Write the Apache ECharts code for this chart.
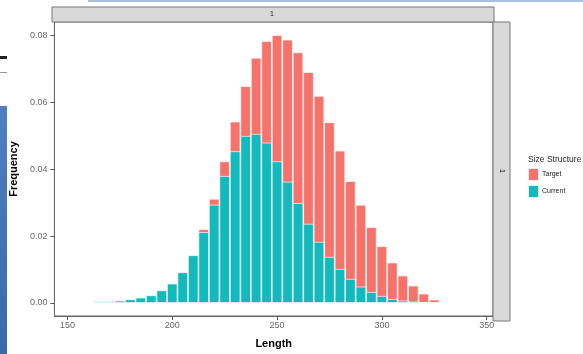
<!DOCTYPE html>
<html>
<head>
<meta charset="utf-8">
<script src="https://cdn.jsdelivr.net/npm/echarts@6/dist/echarts.min.js"></script>
<style>
  html, body { margin: 0; padding: 0; background: #ffffff; }
  #chart { width: 583px; height: 354px; }
</style>
</head>
<body>
<div id="chart"></div>
<script>
// Bin centres (Length), bin width 5
const lengths = [165, 170, 175, 180, 185, 190, 195, 200, 205, 210, 215, 220, 225, 230, 235, 240,
                 245, 250, 255, 260, 265, 270, 275, 280, 285, 290, 295, 300, 305, 310, 315, 320, 325];
// Target size structure (drawn behind)
const target = [0.0001, 0.0002, 0.0004, 0.0008, 0.0014, 0.0021, 0.0035, 0.0055, 0.0088, 0.0138, 0.0221,
                0.0312, 0.0424, 0.0543, 0.0649, 0.0734, 0.0784, 0.0802, 0.0788, 0.0750, 0.0691, 0.0620,
                0.0541, 0.0456, 0.0365, 0.0294, 0.0227, 0.0170, 0.0121, 0.0082, 0.0052, 0.0028, 0.0010];
// Current size structure (drawn on top)
const current = [0.0005, 0.0005, 0.0007, 0.0011, 0.0016, 0.0023, 0.0038, 0.0058, 0.0092, 0.0143, 0.0212,
                 0.0294, 0.0380, 0.0454, 0.0500, 0.0506, 0.0480, 0.0424, 0.0363, 0.0299, 0.0237, 0.0183,
                 0.0138, 0.0102, 0.0072, 0.0049, 0.0033, 0.0021, 0.0012, 0.0007, 0.0004, 0.0002, 0.0001];
const xTicks = [150, 200, 250, 300, 350];
const yTicks = [0.00, 0.02, 0.04, 0.06, 0.08];
const seriesNames = ['Target', 'Current'];
const colors = ['#F6736B', '#12BABD'];
const facetLabel = '1';

const chart = echarts.init(document.getElementById('chart'), null, { renderer: 'canvas' });
const FONT = 'Liberation Sans, Arial, sans-serif';
const gridL = 52, gridR = 493, gridT = 22, gridB = 320;

const option = {
  backgroundColor: '#ffffff',
  animation: false,
  color: colors,
  textStyle: { fontFamily: FONT },
  title: {
    text: 'Size Structure',
    left: 523, top: 150,
    textStyle: { fontSize: 8.5, fontWeight: 'normal', color: '#222', fontFamily: FONT }
  },
  legend: {
    data: seriesNames,
    orient: 'vertical',
    left: 522, top: 162,
    icon: 'rect',
    itemWidth: 11, itemHeight: 13,
    itemGap: 2,
    textStyle: { fontSize: 7, color: '#222', fontFamily: FONT, padding: [0, 0, 0, -2] },
    selectedMode: false
  },
  grid: {
    left: gridL, right: 583 - gridR, top: gridT, bottom: 354 - gridB,
    show: true, borderColor: '#666', borderWidth: 1, backgroundColor: '#fff'
  },
  xAxis: {
    type: 'value',
    min: 143.8, max: 353,
    name: 'Length',
    nameLocation: 'middle',
    nameGap: 22,
    nameTextStyle: { fontSize: 11, fontWeight: 'bold', color: '#000', fontFamily: FONT },
    axisLine: { show: true, onZero: false, lineStyle: { color: '#666', width: 1 } },
    axisTick: { show: true, customValues: xTicks, length: 4, lineStyle: { color: '#555', width: 1 } },
    axisLabel: { customValues: xTicks, fontSize: 9, color: '#666', margin: 5, fontFamily: FONT },
    splitLine: { show: false }
  },
  yAxis: {
    type: 'value',
    min: -0.0039, max: 0.0841,
    name: 'Frequency',
    nameLocation: 'middle',
    nameGap: 33,
    nameTextStyle: { fontSize: 11, fontWeight: 'bold', color: '#000', fontFamily: FONT },
    axisLine: { show: true, onZero: false, lineStyle: { color: '#666', width: 1 } },
    axisTick: { show: true, customValues: yTicks, length: 4, lineStyle: { color: '#555', width: 1 } },
    axisLabel: {
      customValues: yTicks, fontSize: 9, color: '#666', margin: 7, fontFamily: FONT,
      formatter: v => v.toFixed(2)
    },
    splitLine: { show: false }
  },
  series: [
    {
      name: seriesNames[0], type: 'bar',
      data: lengths.map((x, i) => [x, target[i]]),
      barWidth: 10.54, barGap: '-100%',
      itemStyle: { color: colors[0], borderColor: 'rgba(255,255,255,0.85)', borderWidth: 0.8 },
      z: 2
    },
    {
      name: seriesNames[1], type: 'bar',
      data: lengths.map((x, i) => [x, current[i]]),
      barWidth: 10.54, barGap: '-100%',
      itemStyle: { color: colors[1], borderColor: 'rgba(255,255,255,0.85)', borderWidth: 0.8 },
      z: 3
    }
  ],
  graphic: [
    // top facet strip
    { type: 'rect', shape: { x: 52, y: 7, width: 442, height: 15 },
      style: { fill: '#d9d9d9', stroke: '#777', lineWidth: 1 }, z: 10 },
    { type: 'text', x: 272, y: 14.5, style: { text: facetLabel, fontSize: 7, fill: '#222', align: 'center', verticalAlign: 'middle', fontFamily: FONT }, z: 11 },
    // right facet strip
    { type: 'rect', shape: { x: 493, y: 22, width: 17, height: 299 },
      style: { fill: '#d9d9d9', stroke: '#777', lineWidth: 1 }, z: 10 },
    { type: 'text', x: 501.5, y: 171, rotation: -Math.PI / 2,
      style: { text: facetLabel, fontSize: 7, fill: '#222', align: 'center', verticalAlign: 'middle', fontFamily: FONT }, z: 11 },
    // screenshot surroundings
    { type: 'rect', shape: { x: 88, y: 0, width: 495, height: 2 }, style: { fill: '#a9c0e4' }, z: 1 },
    { type: 'rect', shape: { x: 0, y: 106, width: 7, height: 248 },
      style: { fill: new echarts.graphic.LinearGradient(0, 0, 0, 1, [{ offset: 0, color: '#4f7fbf' }, { offset: 1, color: '#3c6aa8' }]) }, z: 1 },
    { type: 'rect', shape: { x: 0, y: 56, width: 7, height: 3 }, style: { fill: '#222' }, z: 1 },
    { type: 'rect', shape: { x: 0, y: 72, width: 7, height: 1 }, style: { fill: '#999' }, z: 1 }
  ]
};
chart.setOption(option);
</script>
</body>
</html>
